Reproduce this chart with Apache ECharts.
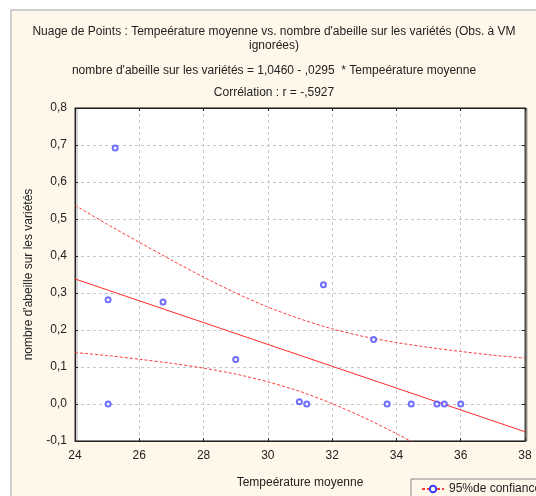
<!DOCTYPE html>
<html>
<head>
<meta charset="utf-8">
<script src="https://cdn.jsdelivr.net/npm/echarts@6/dist/echarts.min.js"></script>
<style>
  html, body { margin: 0; padding: 0; background: #fff; }
  #main { width: 536px; height: 496px; }
</style>
</head>
<body>
<div id="main"></div>
<script>
// observations: temperature vs number of bees
const tempObs = [25.25, 25.03, 25.03, 26.74, 29.0, 30.98, 31.21, 31.73, 33.29, 33.71, 34.46, 35.26, 35.49, 36.0];
const beesObs = [0.692, 0.282, 0.0, 0.276, 0.12, 0.006, 0.0, 0.322, 0.174, 0.0, 0.0, 0.0, 0.0, 0.0];

// regression line ends (1,0460 - ,0295 * x)
const fitX = [24, 38];
const fitY = [0.338, -0.075];

// 95% confidence band
const bandX = [24, 25, 26, 27, 28, 29, 30, 31, 32, 33, 34, 35, 36, 37, 38];
const bandUpper = [0.537, 0.486, 0.437, 0.389, 0.343, 0.300, 0.262, 0.230, 0.203, 0.182, 0.166, 0.153, 0.142, 0.132, 0.124];
const bandLower = [0.139, 0.131, 0.121, 0.110, 0.097, 0.081, 0.060, 0.034, 0.001, -0.037, -0.080, -0.126, -0.174, -0.223, -0.274];

const titleLines = [
  "Nuage de Points : Tempeérature moyenne vs. nombre d'abeille sur les variétés (Obs. à VM",
  "ignorées)",
  "nombre d'abeille sur les variétés = 1,0460 - ,0295  * Tempeérature moyenne",
  "Corrélation : r = -,5927"
];
const titleTops = [26, 40, 65, 87];

const font = "Liberation Sans, Arial, sans-serif";
const txt = '#222';
const zip = (xs, ys) => xs.map((x, i) => [x, ys[i]]);
const fmt = v => v.toFixed(1).replace('.', ',');

const chart = echarts.init(document.getElementById('main'));

const option = {
  animation: false,
  textStyle: { fontFamily: font },
  graphic: [{
    type: 'rect',
    z: -10,
    shape: { x: 11, y: 10, width: 540, height: 500 },
    style: { fill: '#fff8ea', stroke: '#cfcfcf', lineWidth: 2 }
  }],
  title: titleLines.map((t, i) => ({
    text: t,
    left: 274,
    top: titleTops[i],
    textAlign: 'center',
    padding: 0,
    textStyle: { fontSize: 12, fontWeight: 'normal', color: txt, fontFamily: font }
  })),
  grid: {
    left: 75, top: 108, width: 450, height: 333,
    show: true, backgroundColor: '#fff', borderColor: '#333', borderWidth: 1,
    shadowColor: 'rgba(0,0,0,0.35)', shadowBlur: 0, shadowOffsetX: 2, shadowOffsetY: 0
  },
  legend: {
    left: 411, top: 479,
    padding: [4, 30, 12, 10],
    itemWidth: 22, itemHeight: 8, itemGap: 4,
    borderColor: '#888', borderWidth: 1,
    backgroundColor: '#fff8ea',
    data: ['95%de confiance'],
    textStyle: { fontSize: 12, color: txt, fontFamily: font }
  },
  xAxis: [{
    type: 'value', min: 24, max: 38, interval: 2,
    name: 'Tempeérature moyenne', nameLocation: 'middle', nameGap: 36,
    nameTextStyle: { fontSize: 12, color: txt },
    axisLine: { onZero: false, lineStyle: { color: '#222' } },
    axisTick: { inside: true, length: 3, lineStyle: { color: '#222' } },
    axisLabel: { fontSize: 12, color: txt, margin: 9 },
    splitLine: { lineStyle: { color: '#c8c8c8', type: [3, 3] } }
  }, {
    type: 'value', position: 'top', min: 24, max: 38, interval: 2,
    axisLine: { onZero: false, lineStyle: { color: '#222' } },
    axisTick: { inside: true, length: 3, lineStyle: { color: '#222' } },
    axisLabel: { show: false }, splitLine: { show: false }
  }],
  yAxis: [{
    type: 'value', min: -0.1, max: 0.8, interval: 0.1,
    name: "nombre d'abeille sur les variétés", nameLocation: 'middle', nameGap: 40,
    nameTextStyle: { fontSize: 12, color: txt },
    axisLine: { show: true, onZero: false, lineStyle: { color: '#222' } },
    axisTick: { show: true, inside: true, length: 3, lineStyle: { color: '#222' } },
    axisLabel: { fontSize: 12, color: txt, margin: 8, formatter: fmt },
    splitLine: { lineStyle: { color: '#c8c8c8', type: [3, 3] } }
  }, {
    type: 'value', position: 'right', min: -0.1, max: 0.8, interval: 0.1,
    axisLine: { show: true, onZero: false, lineStyle: { color: '#555' } },
    axisTick: { show: true, inside: true, length: 3, lineStyle: { color: '#222' } },
    axisLabel: { show: false }, splitLine: { show: false }
  }],
  series: [
    {
      name: 'fit', type: 'line', data: zip(fitX, fitY),
      symbol: 'none', lineStyle: { color: '#ff2a2a', width: 1 }, z: 3
    },
    {
      name: '95%de confiance', type: 'line', data: zip(bandX, bandUpper),
      symbol: 'emptyCircle', showSymbol: false, symbolSize: 6, smooth: 0.2,
      itemStyle: { color: '#3a3aff' },
      lineStyle: { color: '#ff3a3a', width: 1, type: [3, 2] }, z: 3
    },
    {
      name: '95%de confiance', type: 'line', data: zip(bandX, bandLower),
      symbol: 'emptyCircle', showSymbol: false, symbolSize: 6, smooth: 0.2,
      itemStyle: { color: '#3a3aff' },
      lineStyle: { color: '#ff3a3a', width: 1, type: [3, 2] }, z: 3
    },
    {
      name: 'obs', type: 'scatter', data: zip(tempObs, beesObs),
      symbol: 'emptyCircle', symbolSize: 5,
      itemStyle: { color: '#4a4aff', borderColor: '#4a4aff', borderWidth: 1 }, z: 4
    }
  ]
};

chart.setOption(option);
</script>
</body>
</html>
